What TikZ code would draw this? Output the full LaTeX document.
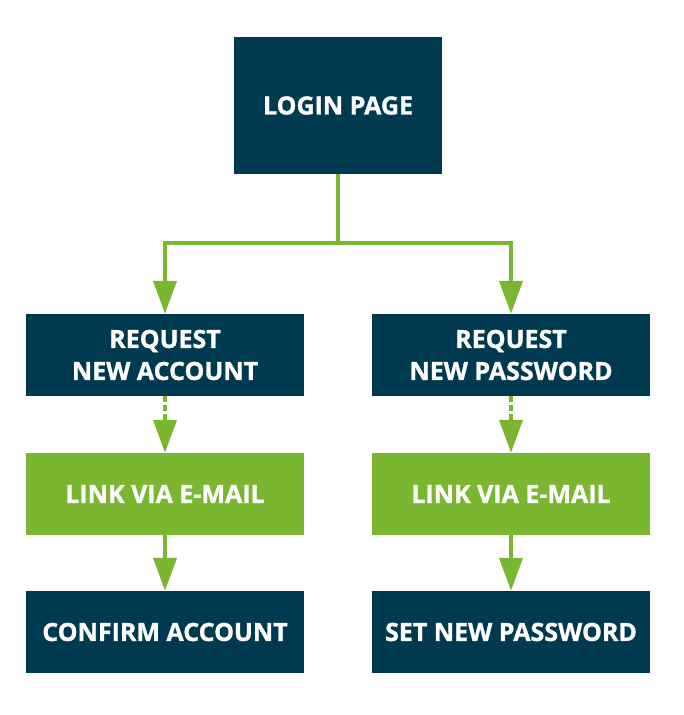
\documentclass[tikz,border=0pt]{standalone}
\usepackage{fontspec}
\setmainfont{Open Sans}[UprightFont=* Bold,FakeBold=1.2]
\usetikzlibrary{arrows.meta}
\definecolor{navy}{RGB}{0,58,80}
\definecolor{lime}{RGB}{122,182,47}
\begin{document}
\begin{tikzpicture}[x=1pt,y=-1pt,
  box/.style={fill=#1,text=white,inner sep=0pt,align=center,
    font=\fontsize{25}{32}\selectfont},
  link/.style={draw=lime,line width=4pt,-{Triangle[length=33pt,width=23pt]}},
  dlink/.style={link,dash pattern=on 6pt off 3pt}]
\useasboundingbox (0,0) rectangle (683,715);
\node[box=navy,minimum width=208pt,minimum height=137pt] (login) at (338,105.5) {LOGIN PAGE};
\node[box=navy,minimum width=278pt,minimum height=82pt] (reqa) at (165,355) {REQUEST\\NEW ACCOUNT};
\node[box=navy,minimum width=278pt,minimum height=82pt] (reqp) at (511,355) {REQUEST\\NEW PASSWORD};
\node[box=lime,minimum width=278pt,minimum height=82pt] (linka) at (165,494) {LINK VIA E-MAIL};
\node[box=lime,minimum width=278pt,minimum height=82pt] (linkp) at (511,494) {LINK VIA E-MAIL};
\node[box=navy,minimum width=278pt,minimum height=82pt] (conf) at (165,632) {CONFIRM ACCOUNT};
\node[box=navy,minimum width=278pt,minimum height=82pt] (setp) at (511,632) {SET NEW PASSWORD};
\coordinate (split) at (338,243);
\draw[draw=lime,line width=4pt] (login.south) -- (split);
\draw[link,line join=miter] (split) -| (reqa.north);
\draw[link,line join=miter] (split) -| (reqp.north);
\draw[dlink] (reqa.south) -- (linka.north);
\draw[dlink] (reqp.south) -- (linkp.north);
\draw[link] (linka.south) -- (conf.north);
\draw[link] (linkp.south) -- (setp.north);
\end{tikzpicture}
\end{document}
